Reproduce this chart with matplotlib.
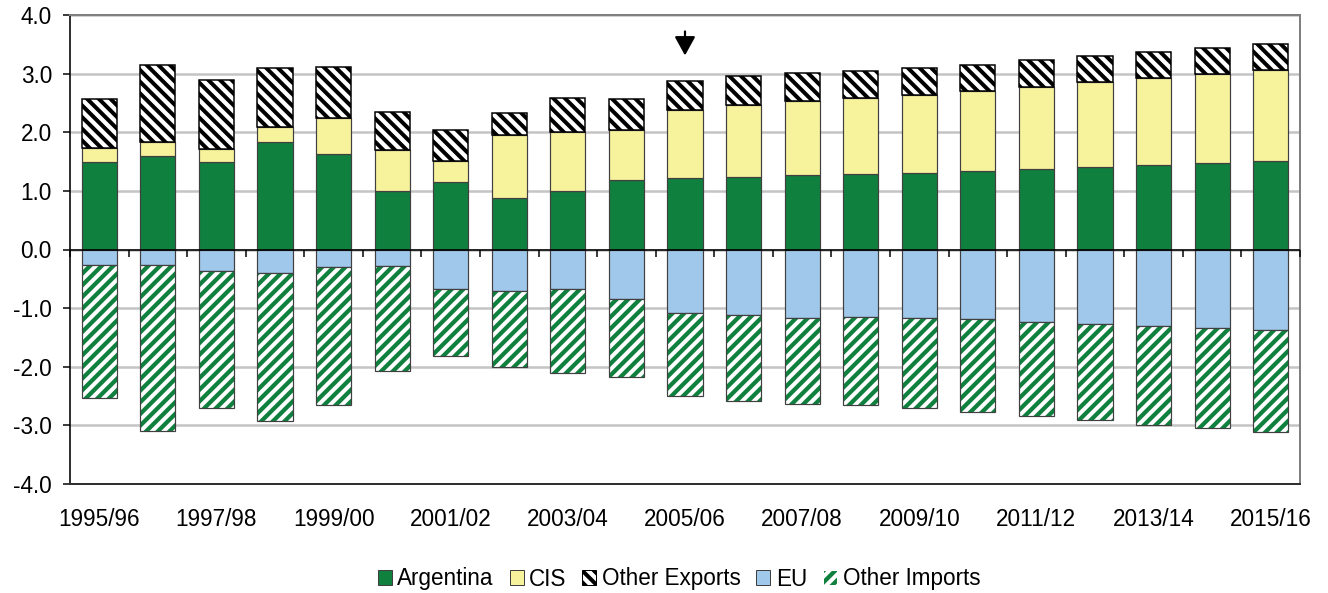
import numpy as np
import matplotlib
matplotlib.use("Agg")
import matplotlib.pyplot as plt
from matplotlib.markers import TICKDOWN
from matplotlib.patches import Patch
from matplotlib.ticker import FormatStrFormatter

# figure is built in pixels; DPI 70 gives the hatch spacing we want
DPI = 70
W, H = 1329, 593


def pt(px):
    """pixels -> points at the working dpi"""
    return px * 72.0 / DPI


# ---------- data (million tonnes) ----------
seasons = ["1995/96", "1996/97", "1997/98", "1998/99", "1999/00", "2000/01",
           "2001/02", "2002/03", "2003/04", "2004/05", "2005/06", "2006/07",
           "2007/08", "2008/09", "2009/10", "2010/11", "2011/12", "2012/13",
           "2013/14", "2014/15", "2015/16"]

argentina = [1.50, 1.60, 1.50, 1.83, 1.63, 1.00, 1.15, 0.88, 1.00, 1.19, 1.22,
             1.24, 1.27, 1.29, 1.31, 1.34, 1.38, 1.40, 1.44, 1.47, 1.51]
cis = [0.23, 0.24, 0.21, 0.26, 0.62, 0.70, 0.36, 1.07, 1.00, 0.84, 1.16,
       1.22, 1.26, 1.29, 1.32, 1.36, 1.39, 1.45, 1.48, 1.52, 1.55]
other_exports = [0.83, 1.31, 1.18, 1.00, 0.86, 0.65, 0.53, 0.37, 0.59, 0.53, 0.50,
                 0.50, 0.48, 0.46, 0.46, 0.45, 0.46, 0.45, 0.45, 0.45, 0.44]
eu = [0.27, 0.26, 0.36, 0.40, 0.30, 0.28, 0.67, 0.70, 0.68, 0.84, 1.09,
      1.12, 1.16, 1.15, 1.17, 1.19, 1.23, 1.27, 1.31, 1.34, 1.38]
other_imports = [2.26, 2.83, 2.34, 2.52, 2.35, 1.79, 1.14, 1.31, 1.42, 1.34, 1.41,
                 1.46, 1.47, 1.50, 1.54, 1.58, 1.61, 1.64, 1.68, 1.71, 1.74]

legend_labels = ["Argentina", "CIS", "Other Exports", "EU", "Other Imports"]
marked_season = "2005/06"

# ---------- style ----------
GREEN = "#10803f"
YELLOW = "#f7f29c"
BLUE = "#a0c8ea"
EDGE = "#404040"
GRID = "#c4c4c4"
FRAME = "#808080"
FS = pt(22.5)
BAR_W = 0.6
HATCH_EXP = "\\\\"
HATCH_IMP = "//"

plt.rcParams["font.family"] = ["Liberation Sans", "DejaVu Sans"]
plt.rcParams["axes.unicode_minus"] = False
plt.rcParams["hatch.linewidth"] = pt(4)

fig = plt.figure(figsize=(W / DPI, H / DPI), dpi=DPI)
ax = fig.add_axes([70 / W, 1 - 484 / H, 1230 / W, (484 - 15) / H])

x = np.arange(len(seasons))
arg = np.array(argentina)
cs = np.array(cis)
oe = np.array(other_exports)
e = np.array(eu)
oi = np.array(other_imports)

# exports (positive)
ax.bar(x, arg, BAR_W, color=GREEN, edgecolor=EDGE, linewidth=pt(1.2), zorder=3)
ax.bar(x, cs, BAR_W, bottom=arg, color=YELLOW, edgecolor=EDGE, linewidth=pt(1.2), zorder=3)
ax.bar(x, oe, BAR_W, bottom=arg + cs, color="white", edgecolor="black",
       hatch=HATCH_EXP, linewidth=pt(1.5), zorder=3)

# imports (negative)
ax.bar(x, -e, BAR_W, color=BLUE, edgecolor=EDGE, linewidth=pt(1.2), zorder=3)
ax.bar(x, -oi, BAR_W, bottom=-e, color=GREEN, edgecolor="white", hatch=HATCH_IMP,
       linewidth=0, zorder=3)
ax.bar(x, -oi, BAR_W, bottom=-e, fill=False, edgecolor=EDGE, linewidth=pt(1.2), zorder=3)

# zero line with small ticks between categories
ax.axhline(0, color="black", linewidth=pt(1.6), zorder=4)
bounds = np.arange(len(seasons) + 1) - 0.5
ax.plot(bounds, np.zeros_like(bounds), linestyle="none", marker=TICKDOWN,
        markersize=pt(7), markeredgewidth=pt(1.5), color="black", zorder=4,
        clip_on=False)

# arrow over the marked season
mi = seasons.index(marked_season)
ax.annotate("", xy=(mi, 3.31), xytext=(mi, 3.72),
            arrowprops=dict(arrowstyle="-|>,head_length=0.4,head_width=0.22",
                            color="black", lw=pt(2.2),
                            mutation_scale=pt(40), shrinkA=0, shrinkB=0))

# axes
ax.set_xlim(-0.5, len(seasons) - 0.5)
ax.set_ylim(-4, 4)
ax.set_yticks(np.arange(-4, 4.01, 1.0))
ax.yaxis.set_major_formatter(FormatStrFormatter("%.1f"))
ax.set_xticks(x[::2], seasons[::2])
ax.yaxis.grid(True, color=GRID, linewidth=pt(2.5))
ax.set_axisbelow(True)

ax.tick_params(axis="x", length=0, pad=pt(24), labelsize=FS)
ax.tick_params(axis="y", length=pt(7), width=pt(1.5), pad=pt(11), labelsize=FS)

ax.spines["left"].set_color("black")
ax.spines["left"].set_linewidth(pt(1.6))
ax.spines["bottom"].set_color("#303030")
ax.spines["bottom"].set_linewidth(pt(2))
for s in ("top", "right"):
    ax.spines[s].set_color(FRAME)
    ax.spines[s].set_linewidth(pt(2))

# legend
handles = [
    Patch(facecolor=GREEN, edgecolor=EDGE, linewidth=pt(1)),
    Patch(facecolor=YELLOW, edgecolor=EDGE, linewidth=pt(1)),
    Patch(facecolor="white", edgecolor="black", hatch=HATCH_EXP, linewidth=pt(1)),
    Patch(facecolor=BLUE, edgecolor=EDGE, linewidth=pt(1)),
    Patch(facecolor=GREEN, edgecolor="white", hatch=HATCH_IMP, linewidth=pt(1)),
]
fig.legend(handles, legend_labels, loc="center", bbox_to_anchor=(679 / W, 1 - 579 / H),
           ncol=5, frameon=False, fontsize=FS, handlelength=0.62, handleheight=0.62,
           handletextpad=0.25, columnspacing=0.7, borderpad=0, borderaxespad=0)

fig.savefig("out.png", dpi=DPI)
